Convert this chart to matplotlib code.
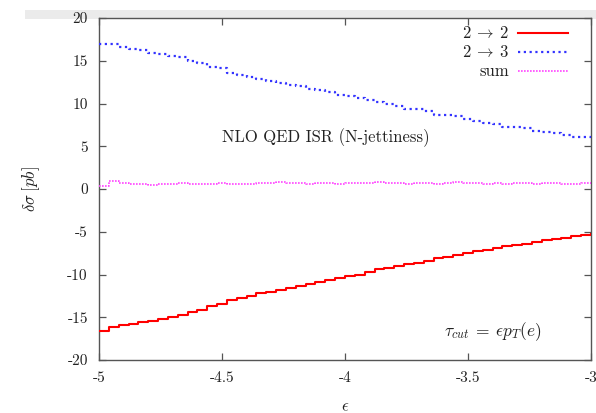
import matplotlib
matplotlib.use("Agg")
import matplotlib.pyplot as plt
from matplotlib.patches import Rectangle

# epsilon bin edges (step-post), -5 .. -3
eps = [-5.00, -4.96, -4.92, -4.88, -4.84, -4.80, -4.76, -4.72, -4.68, -4.64,
       -4.60, -4.56, -4.52, -4.48, -4.44, -4.40, -4.36, -4.32, -4.28, -4.24,
       -4.20, -4.16, -4.12, -4.08, -4.04, -4.00, -3.96, -3.92, -3.88, -3.84,
       -3.80, -3.76, -3.72, -3.68, -3.64, -3.60, -3.56, -3.52, -3.48, -3.44,
       -3.40, -3.36, -3.32, -3.28, -3.24, -3.20, -3.16, -3.12, -3.08, -3.04,
       -3.00]

sig_22 = [-16.6, -16.1, -15.9, -15.8, -15.6, -15.4, -15.2, -15.0, -14.7, -14.4,
          -14.1, -13.7, -13.4, -13.0, -12.7, -12.5, -12.2, -12.0, -11.8, -11.6,
          -11.3, -11.1, -10.9, -10.6, -10.4, -10.2, -10.0, -9.7, -9.4, -9.2,
          -9.0, -8.8, -8.6, -8.4, -8.1, -7.9, -7.7, -7.5, -7.3, -7.1,
          -6.9, -6.7, -6.6, -6.4, -6.2, -6.0, -5.9, -5.7, -5.5, -5.4,
          -5.3]

sig_23 = [17.0, 17.0, 16.6, 16.4, 16.2, 15.9, 15.8, 15.6, 15.4, 15.0,
          14.7, 14.3, 14.1, 13.6, 13.3, 13.1, 12.9, 12.6, 12.4, 12.2,
          12.0, 11.7, 11.6, 11.3, 11.0, 10.9, 10.7, 10.4, 10.2, 9.9,
          9.7, 9.4, 9.3, 9.1, 8.7, 8.6, 8.5, 8.2, 8.0, 7.7,
          7.6, 7.3, 7.3, 7.1, 6.8, 6.7, 6.6, 6.3, 6.1, 6.1,
          5.9]

sig_sum = [0.4, 0.9, 0.7, 0.6, 0.6, 0.5, 0.6, 0.6, 0.7, 0.6,
           0.6, 0.6, 0.7, 0.6, 0.6, 0.6, 0.7, 0.7, 0.8, 0.7,
           0.7, 0.6, 0.7, 0.7, 0.6, 0.7, 0.7, 0.7, 0.8, 0.7,
           0.7, 0.6, 0.7, 0.7, 0.6, 0.7, 0.8, 0.7, 0.7, 0.6,
           0.7, 0.6, 0.7, 0.7, 0.6, 0.7, 0.7, 0.6, 0.6, 0.7,
           0.6]

x_ticks = [-5, -4.5, -4, -3.5, -3]
x_tick_labels = ["-5", "-4.5", "-4", "-3.5", "-3"]
y_ticks = [-20, -15, -10, -5, 0, 5, 10, 15, 20]

TEXT = "#222222"
FRAME = "#555555"
RED = "#ff0000"
BLUE = "#3333ff"
MAGENTA = "#ff44ff"

plt.rcParams["font.family"] = ["cmr10", "DejaVu Serif"]
plt.rcParams["mathtext.fontset"] = "cm"
plt.rcParams["axes.unicode_minus"] = False
plt.rcParams["axes.formatter.use_mathtext"] = True

W, H = 596, 413
fig = plt.figure(figsize=(W / 100, H / 100), dpi=100)
fig.patch.set_facecolor("white")

# light grey strip along the top (screenshot artefact)
fig.patches.append(Rectangle((25 / W, 1 - 18.5 / H), 1 - 25 / W, 8.5 / H,
                             transform=fig.transFigure, facecolor="#ebebeb",
                             edgecolor="none", zorder=-5))

ax = fig.add_axes([99 / W, 1 - 360 / H, (591 - 99) / W, (360 - 18) / H])
ax.set_facecolor("white")
ax.set_zorder(2)

ax.plot(eps, sig_22, drawstyle="steps-post", color=RED, lw=1.5, zorder=3)
ax.plot(eps, sig_23, drawstyle="steps-post", color=BLUE, lw=1.6,
        linestyle=(0, (1.0, 1.6)), zorder=3)
ax.plot(eps, sig_sum, drawstyle="steps-post", color=MAGENTA, lw=1.2,
        linestyle=(0, (1.0, 0.8)), zorder=3)

ax.set_xlim(-5, -3)
ax.set_ylim(-20, 20)
ax.set_xticks(x_ticks)
ax.set_xticklabels(x_tick_labels)
ax.set_yticks(y_ticks)
ax.set_yticklabels([str(v) for v in y_ticks])

for s in ax.spines.values():
    s.set_color(FRAME)
    s.set_linewidth(1.0)
ax.tick_params(direction="in", length=5, width=0.9, color=FRAME,
               top=True, right=True, labelsize=11, labelcolor=TEXT, pad=8)

ax.set_xlabel(r"$\epsilon$", fontsize=12, color=TEXT, labelpad=10)
ax.set_ylabel(r"$\delta\sigma\;[pb]$", fontsize=12, color=TEXT, labelpad=18)

ax.text(-4.077, 6.0, "NLO QED ISR (N-jettiness)", fontsize=12, color=TEXT,
        ha="center", va="center")
ax.text(-3.40, -16.7, r"$\tau_{cut}\:=\:\epsilon p_T(e)$", fontsize=12.5,
        color=TEXT, ha="center", va="center")

# gnuplot-style key, top right
key = [(r"$2\:\rightarrow\:2$", RED, "-", 1.5, 33),
       (r"$2\:\rightarrow\:3$", BLUE, (0, (1.0, 1.6)), 1.6, 52),
       ("sum", MAGENTA, (0, (1.0, 0.8)), 1.2, 71)]
for label, col, ls, lw, ypx in key:
    yf = 1 - ypx / H
    fig.text(509 / W, yf, label, fontsize=12, color=TEXT, ha="right",
             va="center", zorder=5)
    fig.add_artist(plt.Line2D([518 / W, 568 / W], [yf, yf], color=col,
                              linestyle=ls, lw=lw, transform=fig.transFigure,
                              zorder=5))

fig.savefig("out.png", dpi=100, facecolor="white")
